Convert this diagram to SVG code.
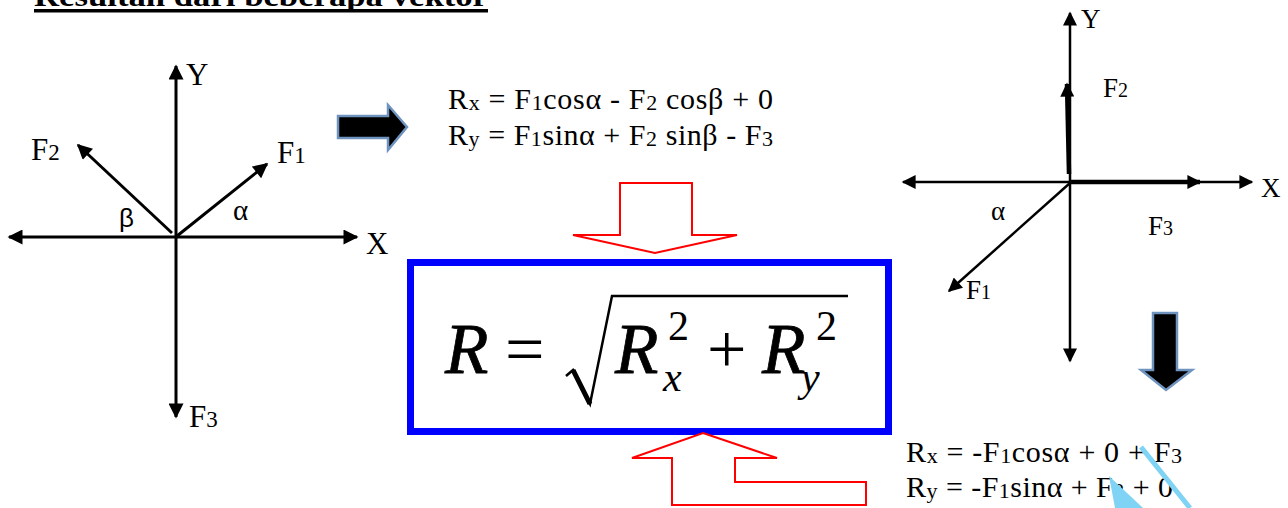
<svg xmlns="http://www.w3.org/2000/svg" width="1288" height="508" viewBox="0 0 1288 508">
<style>
  .t { font-family: "Liberation Serif", "Times New Roman", serif; fill: #000; }
  .lbl { font-size: 31px; }
  .lbl2 { font-size: 27px; }
  .eq { font-size: 30px; }
  .ax { stroke: #000; stroke-width: 3; fill: none; }
  .ax2 { stroke: #000; stroke-width: 2.5; fill: none; }
  .thick { stroke: #000; stroke-width: 4.5; fill: none; }
  .red { fill: #fff; stroke: #ff0000; stroke-width: 2; }
  .blk { fill: #000; stroke: #6f93bf; stroke-width: 2.5; }
  .mi { font-style: italic; }
  .big { stroke: #000; stroke-width: 0.8; }
</style>
<defs>
  <marker id="ah" viewBox="0 0 10 10" refX="9" refY="5" markerWidth="16" markerHeight="15" markerUnits="userSpaceOnUse" orient="auto-start-reverse">
    <path d="M0,0 L10,5 L0,10 z" fill="#000"/>
  </marker>
  <marker id="ah2" viewBox="0 0 10 10" refX="9" refY="5" markerWidth="16" markerHeight="14" markerUnits="userSpaceOnUse" orient="auto-start-reverse">
    <path d="M0,0 L10,5 L0,10 z" fill="#000"/>
  </marker>
</defs>

<g id="title">
  <text class="t" x="34" y="6" font-size="30" font-weight="bold" textLength="454" lengthAdjust="spacingAndGlyphs">Resultan dari beberapa vektor</text>
  <rect x="34" y="9" width="454" height="3.5" fill="#000"/>
</g>

<g id="left-diagram">
  <line class="ax" x1="9" y1="237" x2="357" y2="237" marker-start="url(#ah)" marker-end="url(#ah)"/>
  <line class="ax" x1="176" y1="417" x2="176" y2="66" marker-start="url(#ah)" marker-end="url(#ah)"/>
  <line class="ax" x1="172" y1="233" x2="78" y2="145" marker-end="url(#ah)"/>
  <line class="ax" x1="177" y1="236" x2="267" y2="164" marker-end="url(#ah)"/>
  <text class="t lbl" x="186" y="85">Y</text>
  <text class="t lbl" x="366" y="254">X</text>
  <text class="t lbl" x="31" y="160">F<tspan font-size="23">2</tspan></text>
  <text class="t lbl" x="277" y="163">F<tspan font-size="23">1</tspan></text>
  <text class="t lbl" x="189" y="427">F<tspan font-size="23">3</tspan></text>
  <text x="119" y="227" font-family="Liberation Sans, Arial, sans-serif" font-size="26">β</text>
  <text class="t" x="233" y="220" font-size="29">α</text>
</g>

<g id="right-block-arrow">
  <polygon class="blk" points="338,116 388,116 388,105 407,127 388,150 388,138 338,138"/>
</g>

<g id="eq-top">
  <text class="t eq" x="448" y="109" textLength="325" lengthAdjust="spacing">R<tspan font-size="22" dy="1">x</tspan><tspan dy="-1"> = F</tspan><tspan font-size="22" dy="1">1</tspan><tspan dy="-1">cosα - F</tspan><tspan font-size="22" dy="1">2</tspan><tspan dy="-1"> cosβ + 0</tspan></text>
  <text class="t eq" x="448" y="145" textLength="325" lengthAdjust="spacing">R<tspan font-size="22" dy="1">y</tspan><tspan dy="-1"> = F</tspan><tspan font-size="22" dy="1">1</tspan><tspan dy="-1">sinα + F</tspan><tspan font-size="22" dy="1">2</tspan><tspan dy="-1"> sinβ - F</tspan><tspan font-size="22" dy="1">3</tspan></text>
</g>

<g id="red-arrow-top">
  <polygon class="red" points="620,183 692,183 692,235 737,235 655,253 573,235 620,235"/>
</g>

<g id="formula-box">
  <rect x="410.5" y="262.5" width="478" height="169" fill="#fff" stroke="#0000ff" stroke-width="7"/>
  <text class="t mi big" x="445" y="373" font-size="71">R</text>
  <text class="t" x="505" y="373" font-size="70">=</text>
  <path d="M566,376 L573,370 L590,404 L612,296 L848,296" fill="none" stroke="#000" stroke-width="2.5"/>
  <path d="M573,370 L590,404" fill="none" stroke="#000" stroke-width="5"/>
  <text class="t mi big" x="615" y="373" font-size="71">R</text>
  <text class="t" x="668" y="340" font-size="42">2</text>
  <text class="t mi" x="663" y="391" font-size="42">x</text>
  <text class="t" x="707" y="373" font-size="70">+</text>
  <text class="t mi big" x="762" y="373" font-size="71">R</text>
  <text class="t" x="816" y="340" font-size="42">2</text>
  <text class="t mi" x="801" y="391" font-size="42">y</text>
</g>

<g id="red-arrow-bottom">
  <polygon class="red" points="703,433 777,458 735,458 735,482 866,482 866,505 672,505 672,458 632,458"/>
</g>

<g id="right-diagram">
  <line class="ax2" x1="903" y1="182" x2="1252" y2="182" marker-start="url(#ah2)" marker-end="url(#ah2)"/>
  <line class="ax2" x1="1070" y1="361" x2="1070" y2="13" marker-start="url(#ah2)" marker-end="url(#ah2)"/>
  <line class="thick" x1="1070" y1="182" x2="1200" y2="182" marker-end="url(#ah2)"/>
  <line class="thick" x1="1069" y1="174" x2="1067" y2="84" marker-end="url(#ah2)"/>
  <line class="ax2" x1="1070" y1="183" x2="949" y2="291" marker-end="url(#ah2)"/>
  <text class="t lbl2" x="1081" y="28">Y</text>
  <text class="t lbl2" x="1261" y="197">X</text>
  <text class="t lbl2" x="1103" y="97">F<tspan font-size="20">2</tspan></text>
  <text class="t lbl2" x="1148" y="235">F<tspan font-size="20">3</tspan></text>
  <text class="t lbl2" x="966" y="299">F<tspan font-size="20">1</tspan></text>
  <text class="t" x="991" y="220" font-size="27">α</text>
</g>

<g id="down-block-arrow">
  <polygon class="blk" points="1153,313 1177,313 1177,370 1192,370 1166,390 1141,370 1153,370"/>
</g>

<g id="eq-bottom">
  <text class="t eq" x="906" y="462" textLength="276" lengthAdjust="spacing">R<tspan font-size="22" dy="1">x</tspan><tspan dy="-1"> = -F</tspan><tspan font-size="22" dy="1">1</tspan><tspan dy="-1">cosα + 0 + F</tspan><tspan font-size="22" dy="1">3</tspan></text>
  <text class="t eq" x="906" y="497" textLength="267" lengthAdjust="spacing">R<tspan font-size="22" dy="1">y</tspan><tspan dy="-1"> = -F</tspan><tspan font-size="22" dy="1">1</tspan><tspan dy="-1">sinα + F</tspan><tspan font-size="22" dy="1">2</tspan><tspan dy="-1"> + 0</tspan></text>
</g>

<g id="cyan-marks">
  <line x1="1141" y1="447" x2="1190" y2="508" stroke="#7fd3f4" stroke-width="5"/>
  <polygon points="1109,476 1115,508 1143,508" fill="#7fd3f4"/>
</g>
</svg>
